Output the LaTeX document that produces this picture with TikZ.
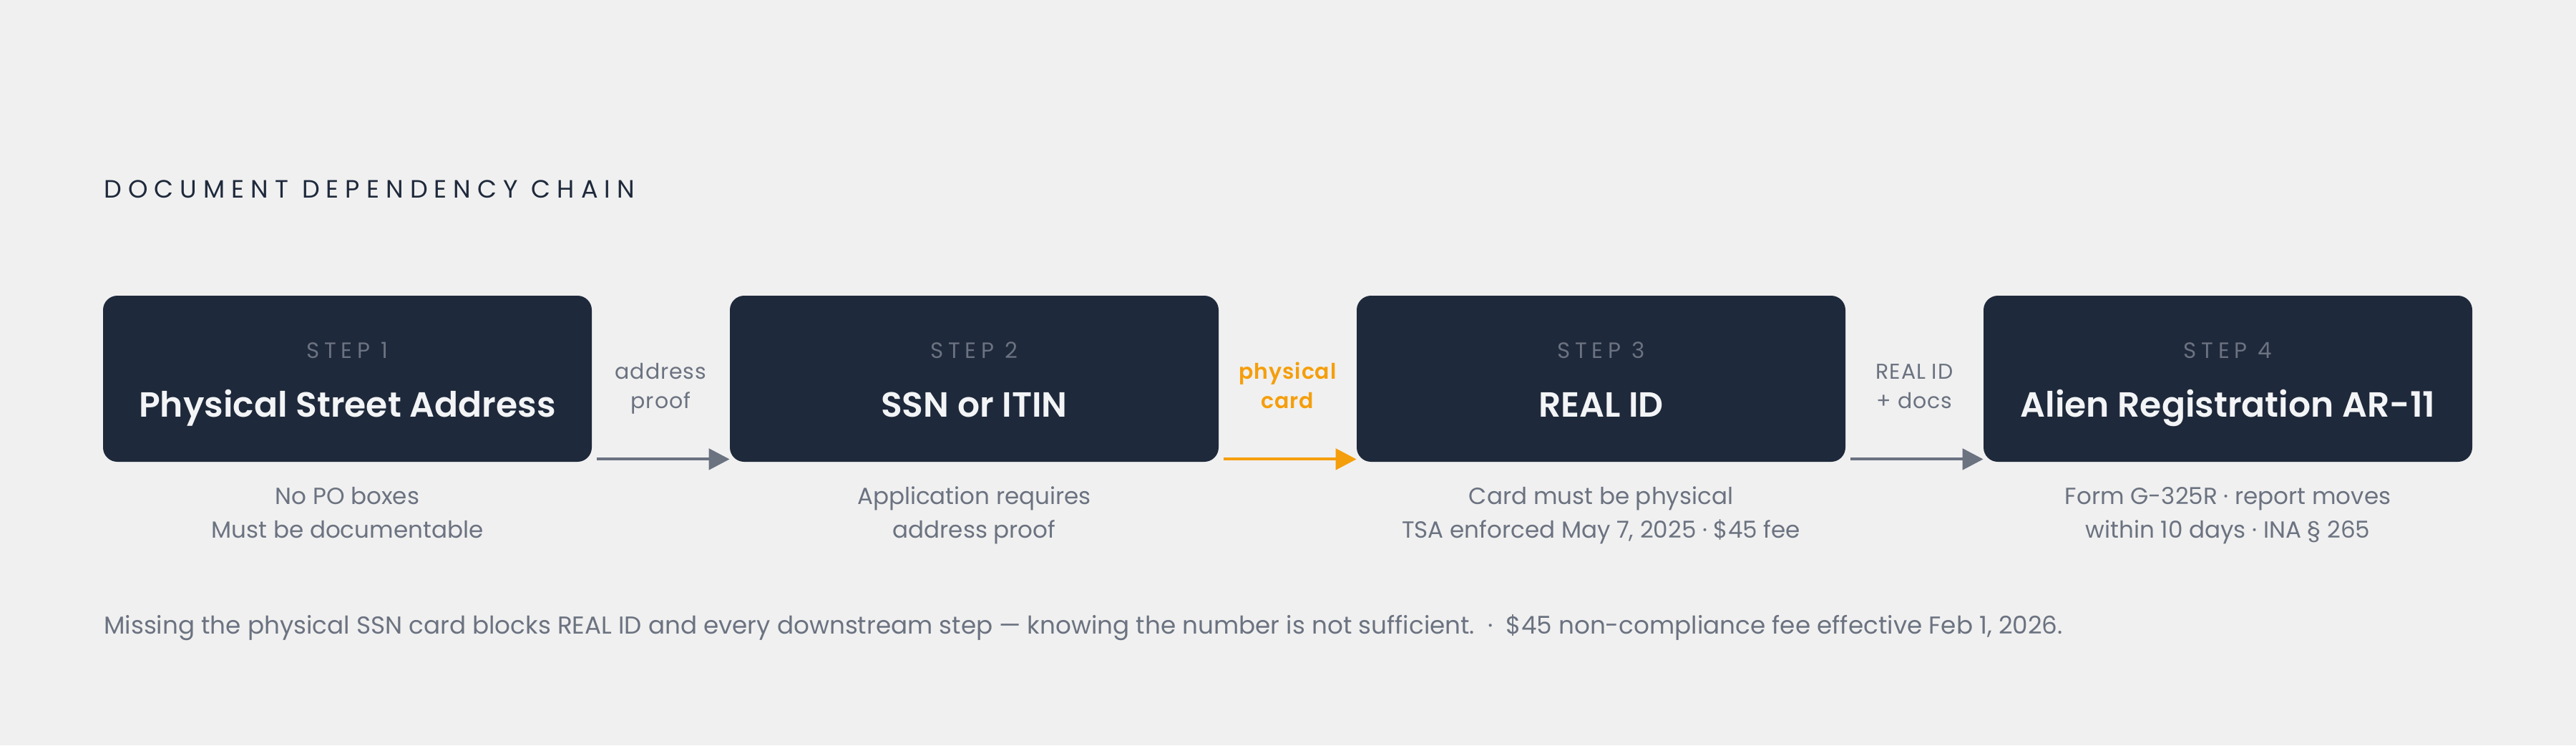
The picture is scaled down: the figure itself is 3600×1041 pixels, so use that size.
\documentclass[tikz,border=0pt]{standalone}
\usepackage{fontspec}
\setmainfont{Poppins}[BoldFont={Poppins SemiBold}]
\newfontfamily\spacedfont[LetterSpace=26]{Poppins}
\newfontfamily\stepfont[LetterSpace=22]{Poppins}
\newfontfamily\lblfont[LetterSpace=3,BoldFont={Poppins SemiBold}]{Poppins}
\usetikzlibrary{arrows.meta}
\definecolor{bgc}{HTML}{F0F0F0}
\definecolor{navy}{HTML}{1E293B}
\definecolor{stepgray}{HTML}{6B7280}
\definecolor{notegray}{HTML}{6B7280}
\definecolor{amber}{HTML}{F59E0B}
\definecolor{offwhite}{HTML}{F3F4F6}
\tikzset{
  stepbox/.style={fill=navy, draw=none, rounded corners=10pt, minimum width=341.5pt, minimum height=116pt, inner sep=0pt},
  steplbl/.style={anchor=base, inner sep=0pt, text=stepgray, font=\stepfont\fontsize{15.5pt}{18pt}\selectfont},
  boxtitle/.style={anchor=base, inner sep=0pt, text=offwhite, font=\bfseries\fontsize{24.4pt}{30pt}\selectfont},
  note/.style={anchor=base, inner sep=0pt, text=notegray, font=\fontsize{16.3pt}{20pt}\selectfont},
  conlbl/.style={anchor=base, inner sep=0pt, text=notegray, font=\lblfont\fontsize{15pt}{18pt}\selectfont},
  hotlbl/.style={anchor=base, inner sep=0pt, text=amber, font=\lblfont\bfseries\fontsize{15pt}{18pt}\selectfont},
  conn/.style={draw=stepgray, line width=2pt, -{Triangle[length=14.5pt,width=14.7pt]}},
  hotconn/.style={draw=amber, line width=2pt, -{Triangle[length=14.5pt,width=14.7pt]}},
}
\begin{document}
\begin{tikzpicture}[x=0.5pt,y=-0.5pt]
\fill[bgc] (0,0) rectangle (3600,1041);
\useasboundingbox (0,0) rectangle (3600,1041);

\node[anchor=base west, inner sep=0pt, text=navy, font=\spacedfont\fontsize{17.5pt}{20pt}\selectfont] (title) at (145,276) {DOCUMENT DEPENDENCY CHAIN};

\node[stepbox] (box1) at (485.5,529) {};
\node[stepbox] (box2) at (1361.5,529) {};
\node[stepbox] (box3) at (2237.5,529) {};
\node[stepbox] (box4) at (3113.5,529) {};

\node[steplbl] (s1) at (485.5,500) {STEP 1};
\node[steplbl] (s2) at (1361.5,500) {STEP 2};
\node[steplbl] (s3) at (2237.5,500) {STEP 3};
\node[steplbl] (s4) at (3113.5,500) {STEP 4};

\node[boxtitle] (t1) at (485.5,582.7) {Physical Street Address};
\node[boxtitle] (t2) at (1361.5,582.7) {SSN or ITIN};
\node[boxtitle] (t3) at (2237.5,582.7) {REAL ID};
\node[boxtitle] (t4) at (3113.5,582.7) {Alien Registration AR-11};

\node[note] (n1a) at (485.5,704) {No PO boxes};
\node[note] (n1b) at (485.5,751.7) {Must be documentable};
\node[note] (n2a) at (1361.5,704) {Application requires};
\node[note] (n2b) at (1361.5,751.7) {address proof};
\node[note] (n3a) at (2237.5,704) {Card must be physical};
\node[note] (n3b) at (2237.5,751.7) {TSA enforced May 7, 2025 · \$45 fee};
\node[note] (n4a) at (3113.5,704) {Form G-325R · report moves};
\node[note] (n4b) at (3113.5,751.7) {within 10 days · INA § 265};

\node[conlbl] (c1a) at (923.5,529) {address};
\node[conlbl] (c1b) at (923.5,570) {proof};
\node[hotlbl] (c2a) at (1799.5,529) {physical};
\node[hotlbl] (c2b) at (1799.5,570) {card};
\node[conlbl] (c3a) at (2675.5,529) {REAL ID};
\node[conlbl] (c3b) at (2675.5,570) {+ docs};

\draw[conn] ([xshift=3.5pt,yshift=2pt]box1.south east) -- ([yshift=2pt]box2.south west);
\draw[hotconn] ([xshift=3.5pt,yshift=2pt]box2.south east) -- ([yshift=2pt]box3.south west);
\draw[conn] ([xshift=3.5pt,yshift=2pt]box3.south east) -- ([yshift=2pt]box4.south west);

\node[anchor=base west, inner sep=0pt, text=notegray, font=\fontsize{17.1pt}{20pt}\selectfont] (caption) at (145,885) {Missing the physical SSN card blocks REAL ID and every downstream step — knowing the number is not sufficient.\ \ ·\ \ \$45 non-compliance fee effective Feb 1, 2026.};
\end{tikzpicture}
\end{document}
